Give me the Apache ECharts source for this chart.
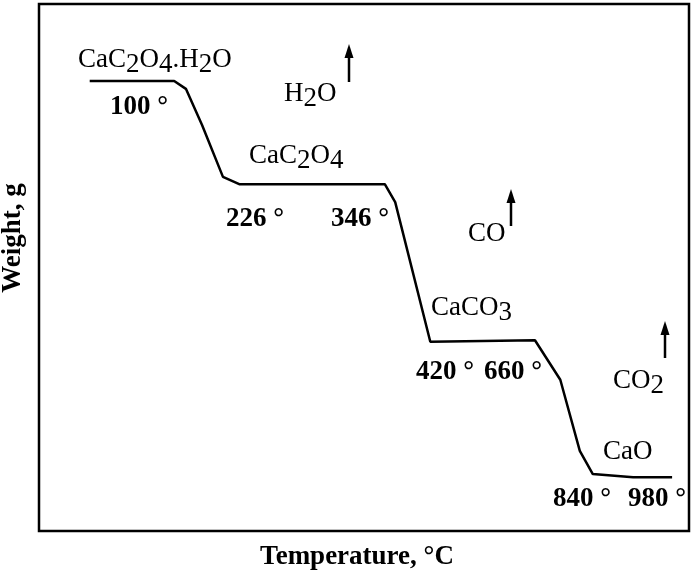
<!DOCTYPE html>
<html>
<head>
<meta charset="utf-8">
<script src="https://cdn.jsdelivr.net/npm/echarts@6/dist/echarts.min.js"></script>
<style>
html,body{margin:0;padding:0;background:#fff;}
#chart{width:694px;height:574px;}
</style>
</head>
<body>
<div id="chart"></div>
<script>
// Curve (relative units: x = progress of heating 0..100, y = weight 0..100)
const curveX = [7.8, 20.8, 22.6, 25.1, 28.3, 30.8, 53.2, 54.8, 60.2, 76.3, 80.2, 83.2, 85.2, 91.4, 97.4];
const curveY = [85.4, 85.4, 83.9, 77.0, 67.2, 65.8, 65.8, 62.4, 35.9, 36.2, 28.7, 15.2, 10.8, 10.2, 10.2];

const phaseLabels = ['CaC2O4.H2O', 'CaC2O4', 'CaCO3', 'CaO'];
const tempLabels = ['100 °', '226 °', '346 °', '420 °', '660 °', '840 °', '980 °'];
const gasLabels = ['H2O', 'CO', 'CO2'];
const xTitle = 'Temperature, °C';
const yTitle = 'Weight, g';

// layout (pixels): left x, vertical centre y
const phasePos = [[78, 60], [249, 156], [431, 308], [603, 452]];
const tempPos = [[110, 107], [226, 219], [331, 219], [416, 372], [484, 372], [553, 499], [628, 499]];
const gasPos = [[284, 94], [468, 234], [613, 381]];
const arrowPos = [[349, 44, 82], [511, 189, 226], [665, 321, 358]];

const FONT = '"Liberation Serif", "Times New Roman", serif';
const FS = 27;

function formula(s) {
  return s.replace(/(\d)|([^\d]+)/g, (m, d, t) => d ? '{s|' + d + '}' : '{n|' + t + '}');
}
const richStyle = {
  n: { fontFamily: FONT, fontSize: FS, fill: '#000' },
  s: { fontFamily: FONT, fontSize: FS, fill: '#000', padding: [10, 0, 0, 0] }
};

function textEl(txt, pos, bold, isFormula) {
  const style = {
    x: pos[0], y: pos[1],
    text: isFormula ? formula(txt) : txt,
    fontFamily: FONT, fontSize: FS, fontWeight: bold ? 'bold' : 'normal',
    fill: '#000', textAlign: 'left', textVerticalAlign: 'middle'
  };
  if (isFormula) style.rich = richStyle;
  return { type: 'text', style: style, z: 10 };
}

const graphics = [];
phaseLabels.forEach((t, i) => graphics.push(textEl(t, phasePos[i], false, true)));
gasLabels.forEach((t, i) => graphics.push(textEl(t, gasPos[i], false, true)));
tempLabels.forEach((t, i) => graphics.push(textEl(t, tempPos[i], true, false)));
arrowPos.forEach(a => {
  graphics.push({ type: 'line', shape: { x1: a[0], y1: a[1] + 10, x2: a[0], y2: a[2] }, style: { stroke: '#000', lineWidth: 2.5 }, z: 10 });
  graphics.push({ type: 'polygon', shape: { points: [[a[0], a[1]], [a[0] - 4.5, a[1] + 14], [a[0] + 4.5, a[1] + 14]] }, style: { fill: '#000' }, z: 10 });
});
graphics.push({
  type: 'text', x: 13, y: 238, rotation: Math.PI / 2,
  style: { text: yTitle, fontFamily: FONT, fontSize: 27, fontWeight: 'bold', fill: '#000', textAlign: 'center', textVerticalAlign: 'middle' }
});
graphics.push({
  type: 'text',
  style: { x: 357, y: 557, text: xTitle, fontFamily: FONT, fontSize: 27, fontWeight: 'bold', fill: '#000', textAlign: 'center', textVerticalAlign: 'middle' }
});

const chart = echarts.init(document.getElementById('chart'), null, { renderer: 'canvas' });
chart.setOption({
  animation: false,
  backgroundColor: '#fff',
  grid: { left: 39, top: 4, right: 5, bottom: 43, show: true, borderColor: '#000', borderWidth: 2.5, backgroundColor: 'transparent' },
  xAxis: { type: 'value', min: 0, max: 100, axisLine: { show: false }, axisTick: { show: false }, axisLabel: { show: false }, splitLine: { show: false } },
  yAxis: { type: 'value', min: 0, max: 100, axisLine: { show: false }, axisTick: { show: false }, axisLabel: { show: false }, splitLine: { show: false } },
  series: [{
    type: 'line',
    data: curveX.map((x, i) => [x, curveY[i]]),
    showSymbol: false,
    lineStyle: { color: '#000', width: 2.5 },
    z: 5
  }],
  graphic: graphics
});
</script>
</body>
</html>
